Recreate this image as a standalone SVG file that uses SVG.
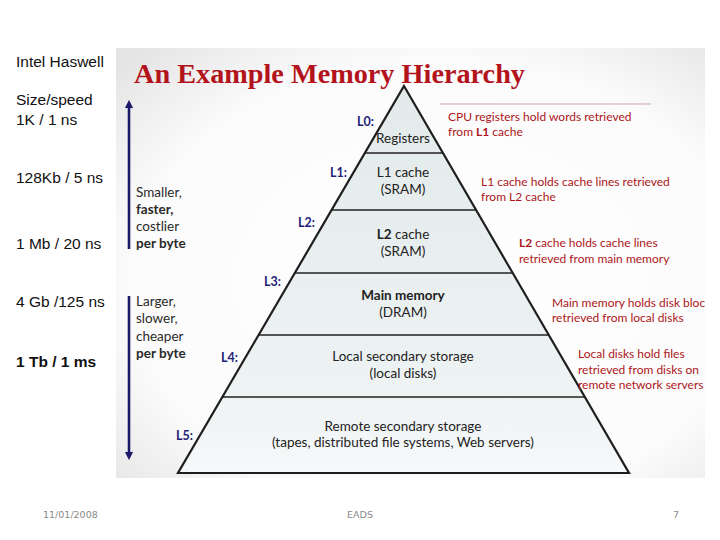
<svg xmlns="http://www.w3.org/2000/svg" width="720" height="540" viewBox="0 0 720 540">
<defs>
<radialGradient id="panelBg" cx="0.55" cy="0.55" r="0.75">
<stop offset="0" stop-color="#ffffff"/>
<stop offset="0.7" stop-color="#fbfbfb"/>
<stop offset="1" stop-color="#e4e4e4"/>
</radialGradient>
<linearGradient id="pyr" x1="0" y1="86" x2="0" y2="473" gradientUnits="userSpaceOnUse">
<stop offset="0" stop-color="#e2eaea"/>
<stop offset="0.75" stop-color="#edf2f3"/>
<stop offset="1" stop-color="#f6f8f9"/>
</linearGradient>
<clipPath id="panelClip"><rect x="116" y="48" width="589" height="430"/></clipPath>
<marker id="head" viewBox="0 0 10 10" refX="5" refY="5" markerWidth="3.2" markerHeight="3.6" orient="auto-start-reverse" markerUnits="strokeWidth">
<path d="M0,0 L10,5 L0,10 z" fill="#1a1a66"/>
</marker>
</defs>
<style>
.side{font-family:"Liberation Sans",Arial,sans-serif;font-size:15.5px;fill:#111}
.foot{font-family:"DejaVu Sans",Verdana,sans-serif;font-size:9.5px;fill:#8a8a8a}
.title{font-family:"Liberation Serif","Times New Roman",serif;font-size:27px;font-weight:bold;fill:#b3141c}
.lv{font-family:Lato,"Liberation Sans",sans-serif;font-size:12.5px;font-weight:bold;fill:#1f1f78}
.box{font-family:Lato,"Liberation Sans",sans-serif;font-size:13.5px;fill:#222;text-anchor:middle}
.note{font-family:Lato,"Liberation Sans",sans-serif;font-size:12px;fill:#ad1620}
.cmp{font-family:Lato,"Liberation Sans",sans-serif;font-size:13.5px;fill:#2a2a2a}
.band{fill:url(#pyr);stroke:none}
.sep{stroke:#222;stroke-width:1.6}
</style>
<rect width="720" height="540" fill="#ffffff"/>
<text class="side" x="16" y="67">Intel Haswell</text>
<text class="side" x="16" y="105">Size/speed</text>
<text class="side" x="16" y="125">1K / 1 ns</text>
<text class="side" x="16" y="183">128Kb / 5 ns</text>
<text class="side" x="16" y="249">1 Mb / 20 ns</text>
<text class="side" x="16" y="307">4 Gb /125 ns</text>
<text class="side" x="16" y="367" font-weight="bold" font-size="15.5">1 Tb / 1 ms</text>

<rect x="116" y="48" width="589" height="430" fill="url(#panelBg)"/>
<g clip-path="url(#panelClip)">
<text class="title" x="134" y="83" textLength="391" lengthAdjust="spacingAndGlyphs">An Example Memory Hierarchy</text>

<g id="connectors" stroke="#1a1a66" stroke-width="2.6" fill="none">
<line x1="129" y1="249" x2="129" y2="104" marker-end="url(#head)"/>
<line x1="129" y1="296" x2="129" y2="456" marker-end="url(#head)"/>
<line x1="440" y1="104" x2="651" y2="104" stroke="#cfa3a3" stroke-width="1"/>
</g>

<text class="cmp" x="136" y="197">Smaller,</text>
<text class="cmp" x="136" y="214" font-weight="bold">faster,</text>
<text class="cmp" x="136" y="231">costlier</text>
<text class="cmp" x="136" y="248" font-weight="bold">per byte</text>
<text class="cmp" x="136" y="306">Larger,</text>
<text class="cmp" x="136" y="323">slower,</text>
<text class="cmp" x="136" y="341">cheaper</text>
<text class="cmp" x="136" y="358" font-weight="bold">per byte</text>

<g id="L0">
<polygon class="band" points="404,86 442.95,153 364.9,153"/>
<text class="lv" x="357" y="126">L0:</text>
<text class="box" x="403" y="143">Registers</text>
</g>
<g id="L1">
<polygon class="band" points="364.9,153 442.95,153 476.1,210 331.6,210"/>
<text class="lv" x="330" y="177">L1:</text>
<text class="box" x="403" y="177">L1 cache</text>
<text class="box" x="403" y="194">(SRAM)</text>
</g>
<g id="L2">
<polygon class="band" points="331.6,210 476.1,210 512.7,273 294.8,273"/>
<text class="lv" x="298" y="227">L2:</text>
<text class="box" x="403" y="239"><tspan font-weight="bold">L2</tspan> cache</text>
<text class="box" x="403" y="256">(SRAM)</text>
</g>
<g id="L3">
<polygon class="band" points="294.8,273 512.7,273 548.8,335 258.6,335"/>
<text class="lv" x="264" y="286">L3:</text>
<text class="box" x="403" y="300" font-weight="bold">Main memory</text>
<text class="box" x="403" y="317">(DRAM)</text>
</g>
<g id="L4">
<polygon class="band" points="258.6,335 548.8,335 584.8,397 222.4,397"/>
<text class="lv" x="221" y="362">L4:</text>
<text class="box" x="403" y="361">Local secondary storage</text>
<text class="box" x="403" y="378">(local disks)</text>
</g>
<g id="L5">
<polygon class="band" points="222.4,397 584.8,397 629,473 178,473"/>
<text class="lv" x="176" y="440">L5:</text>
<text class="box" x="403" y="431">Remote secondary storage</text>
<text class="box" x="403" y="447">(tapes, distributed file systems, Web servers)</text>
</g>
<g id="pyramid-outline" fill="none">
<line class="sep" x1="364.9" y1="153" x2="442.95" y2="153"/>
<line class="sep" x1="331.6" y1="210" x2="476.1" y2="210" stroke-width="2.6"/>
<line class="sep" x1="294.8" y1="273" x2="512.7" y2="273"/>
<line class="sep" x1="258.6" y1="335" x2="548.8" y2="335"/>
<line class="sep" x1="222.4" y1="397" x2="584.8" y2="397"/>
<polygon points="404,86 629,473 178,473" stroke="#1e1e1e" stroke-width="2.2" stroke-linejoin="miter"/>
</g>

<g id="notes">
<text class="note" x="448" y="121">CPU registers hold words retrieved</text>
<text class="note" x="448" y="136">from <tspan font-weight="bold">L1</tspan> cache</text>
<text class="note" x="481" y="186">L1 cache holds cache lines retrieved</text>
<text class="note" x="481" y="201">from L2 cache</text>
<text class="note" x="519" y="247"><tspan font-weight="bold">L2</tspan> cache holds cache lines</text>
<text class="note" x="519" y="263">retrieved from main memory</text>
<text class="note" x="552" y="307">Main memory holds disk blocks</text>
<text class="note" x="552" y="322">retrieved from local disks</text>
<text class="note" x="578" y="358">Local disks hold files</text>
<text class="note" x="578" y="374">retrieved from disks on</text>
<text class="note" x="578" y="389">remote network servers</text>
</g>
</g>

<text class="foot" x="43" y="518">11/01/2008</text>
<text class="foot" x="360" y="518" text-anchor="middle">EADS</text>
<text class="foot" x="673" y="518">7</text>
</svg>
